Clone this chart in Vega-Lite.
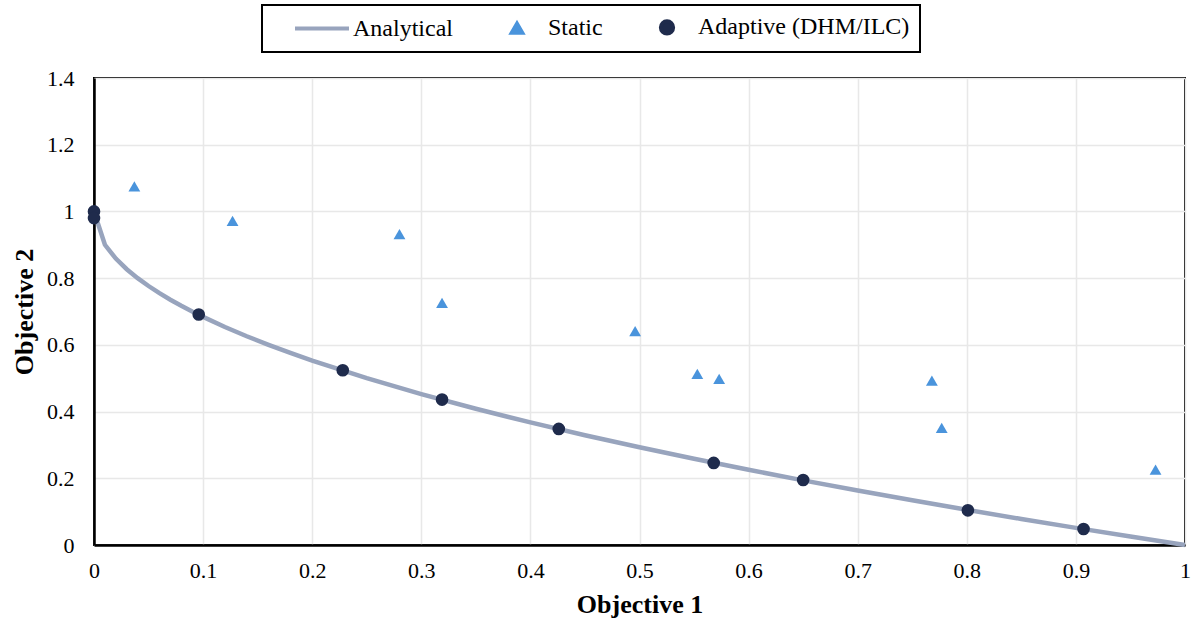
{
  "$schema": "https://vega.github.io/schema/vega-lite/v6.json",
  "width": 1091,
  "height": 467,
  "autosize": {"type": "none"},
  "padding": {"left": 94, "top": 78, "right": 6, "bottom": 83},
  "background": "white",
  "view": {"stroke": "black", "strokeWidth": 2},
  "data": {
    "values": [
      {"series": "Analytical", "f1": 0, "f2": 1},
      {"series": "Analytical", "f1": 0.01, "f2": 0.9},
      {"series": "Analytical", "f1": 0.02, "f2": 0.8586},
      {"series": "Analytical", "f1": 0.03, "f2": 0.8268},
      {"series": "Analytical", "f1": 0.04, "f2": 0.8},
      {"series": "Analytical", "f1": 0.05, "f2": 0.7764},
      {"series": "Analytical", "f1": 0.06, "f2": 0.7551},
      {"series": "Analytical", "f1": 0.07, "f2": 0.7354},
      {"series": "Analytical", "f1": 0.08, "f2": 0.7172},
      {"series": "Analytical", "f1": 0.09, "f2": 0.7},
      {"series": "Analytical", "f1": 0.1, "f2": 0.6838},
      {"series": "Analytical", "f1": 0.12, "f2": 0.6536},
      {"series": "Analytical", "f1": 0.14, "f2": 0.6258},
      {"series": "Analytical", "f1": 0.16, "f2": 0.6},
      {"series": "Analytical", "f1": 0.18, "f2": 0.5757},
      {"series": "Analytical", "f1": 0.2, "f2": 0.5528},
      {"series": "Analytical", "f1": 0.25, "f2": 0.5},
      {"series": "Analytical", "f1": 0.3, "f2": 0.4523},
      {"series": "Analytical", "f1": 0.35, "f2": 0.4084},
      {"series": "Analytical", "f1": 0.4, "f2": 0.3675},
      {"series": "Analytical", "f1": 0.45, "f2": 0.3292},
      {"series": "Analytical", "f1": 0.5, "f2": 0.2929},
      {"series": "Analytical", "f1": 0.55, "f2": 0.2584},
      {"series": "Analytical", "f1": 0.6, "f2": 0.2254},
      {"series": "Analytical", "f1": 0.65, "f2": 0.1938},
      {"series": "Analytical", "f1": 0.7, "f2": 0.1633},
      {"series": "Analytical", "f1": 0.75, "f2": 0.134},
      {"series": "Analytical", "f1": 0.8, "f2": 0.1056},
      {"series": "Analytical", "f1": 0.85, "f2": 0.078},
      {"series": "Analytical", "f1": 0.9, "f2": 0.0513},
      {"series": "Analytical", "f1": 0.95, "f2": 0.0253},
      {"series": "Analytical", "f1": 1, "f2": 0},
      {"series": "Static", "f1": 0.037, "f2": 1.075},
      {"series": "Static", "f1": 0.127, "f2": 0.972},
      {"series": "Static", "f1": 0.28, "f2": 0.932},
      {"series": "Static", "f1": 0.319, "f2": 0.726},
      {"series": "Static", "f1": 0.496, "f2": 0.641},
      {"series": "Static", "f1": 0.553, "f2": 0.513},
      {"series": "Static", "f1": 0.573, "f2": 0.498},
      {"series": "Static", "f1": 0.768, "f2": 0.493},
      {"series": "Static", "f1": 0.777, "f2": 0.351},
      {"series": "Static", "f1": 0.973, "f2": 0.226},
      {"series": "Adaptive (DHM/ILC)", "f1": 0, "f2": 1.0},
      {"series": "Adaptive (DHM/ILC)", "f1": 0, "f2": 0.98},
      {"series": "Adaptive (DHM/ILC)", "f1": 0.096, "f2": 0.691},
      {"series": "Adaptive (DHM/ILC)", "f1": 0.228, "f2": 0.524},
      {"series": "Adaptive (DHM/ILC)", "f1": 0.319, "f2": 0.436},
      {"series": "Adaptive (DHM/ILC)", "f1": 0.426, "f2": 0.348},
      {"series": "Adaptive (DHM/ILC)", "f1": 0.568, "f2": 0.246},
      {"series": "Adaptive (DHM/ILC)", "f1": 0.65, "f2": 0.195},
      {"series": "Adaptive (DHM/ILC)", "f1": 0.801, "f2": 0.104},
      {"series": "Adaptive (DHM/ILC)", "f1": 0.907, "f2": 0.048}
    ]
  },
  "resolve": {
    "axis": {"x": "independent", "y": "independent"},
    "legend": {"color": "independent"}
  },
  "layer": [
    {
      "transform": [{"filter": "datum.series === 'Analytical'"}],
      "mark": {"type": "line", "strokeWidth": 4.5},
      "encoding": {
        "x": {
          "field": "f1",
          "type": "quantitative",
          "title": "Objective 1",
          "scale": {"domain": [0, 1], "nice": false, "zero": false},
          "axis": {
            "values": [0, 0.1, 0.2, 0.3, 0.4, 0.5, 0.6, 0.7, 0.8, 0.9, 1],
            "format": "~g",
            "domainColor": "black",
            "domainWidth": 2.5,
            "tickSize": 0,
            "gridColor": "#e8e8e8",
            "gridWidth": 1.5,
            "labelFlush": false,
            "labelColor": "black",
            "labelFont": "Liberation Serif",
            "labelFontSize": 22,
            "labelPadding": 15,
            "titleColor": "black",
            "titleFont": "Liberation Serif",
            "titleFontSize": 26,
            "titleFontWeight": "bold",
            "titlePadding": 10
          }
        },
        "y": {
          "field": "f2",
          "type": "quantitative",
          "title": "Objective 2",
          "scale": {"domain": [0, 1.4], "nice": false, "zero": false},
          "axis": {
            "values": [0, 0.2, 0.4, 0.6, 0.8, 1, 1.2, 1.4],
            "format": "~g",
            "domainColor": "black",
            "domainWidth": 2.5,
            "tickSize": 0,
            "gridColor": "#e8e8e8",
            "gridWidth": 1.5,
            "labelColor": "black",
            "labelFont": "Liberation Serif",
            "labelFontSize": 22,
            "labelPadding": 20,
            "titleColor": "black",
            "titleFont": "Liberation Serif",
            "titleFontSize": 26,
            "titleFontWeight": "bold",
            "titlePadding": 9
          }
        },
        "color": {
          "field": "series",
          "type": "nominal",
          "scale": {
            "domain": ["Analytical", "Static", "Adaptive (DHM/ILC)"],
            "range": ["#98a4bd", "#4a94dc", "#1f2b4c"]
          },
          "legend": {
            "title": null,
            "orient": "none",
            "legendX": 168,
            "legendY": -73,
            "direction": "horizontal",
            "columns": 3,
            "padding": 10,
            "columnPadding": 14,
            "labelFont": "Liberation Serif",
            "labelFontSize": 24,
            "labelColor": "black",
            "labelOffset": 19,
            "labelLimit": 400,
            "symbolOffset": 38,
            "symbolSize": 2916,
            "symbolStrokeWidth": 4,
            "symbolType": "stroke",
            "encode": {
              "legend": {
                "update": {
                  "stroke": {"value": "black"},
                  "strokeWidth": {"value": 2}
                }
              },
              "symbols": {
                "update": {
                  "shape": {"signal": "datum.value === 'Analytical' ? 'stroke' : datum.value === 'Static' ? 'triangle-up' : 'circle'"},
                  "size": {"signal": "datum.value === 'Analytical' ? 2916 : datum.value === 'Static' ? 110 : 150"},
                  "fill": {"signal": "datum.value === 'Analytical' ? 'transparent' : datum.value === 'Static' ? '#4a94dc' : '#1f2b4c'"},
                  "stroke": {"signal": "datum.value === 'Analytical' ? '#98a4bd' : 'transparent'"},
                  "strokeWidth": {"value": 4},
                  "opacity": {"value": 1}
                }
              }
            }
          }
        }
      }
    },
    {
      "transform": [{"filter": "datum.series === 'Static'"}],
      "mark": {"type": "point", "shape": "triangle-up", "filled": true, "size": 140, "opacity": 1},
      "encoding": {
        "x": {"field": "f1", "type": "quantitative", "scale": {"domain": [0, 1], "nice": false, "zero": false}, "axis": null},
        "y": {"field": "f2", "type": "quantitative", "scale": {"domain": [0, 1.4], "nice": false, "zero": false}, "axis": null},
        "color": {"field": "series", "type": "nominal", "legend": null}
      }
    },
    {
      "transform": [{"filter": "datum.series === 'Adaptive (DHM/ILC)'"}],
      "mark": {"type": "point", "shape": "circle", "filled": true, "size": 160, "opacity": 1},
      "encoding": {
        "x": {"field": "f1", "type": "quantitative", "scale": {"domain": [0, 1], "nice": false, "zero": false}, "axis": null},
        "y": {"field": "f2", "type": "quantitative", "scale": {"domain": [0, 1.4], "nice": false, "zero": false}, "axis": null},
        "color": {"field": "series", "type": "nominal", "legend": null}
      }
    }
  ]
}
